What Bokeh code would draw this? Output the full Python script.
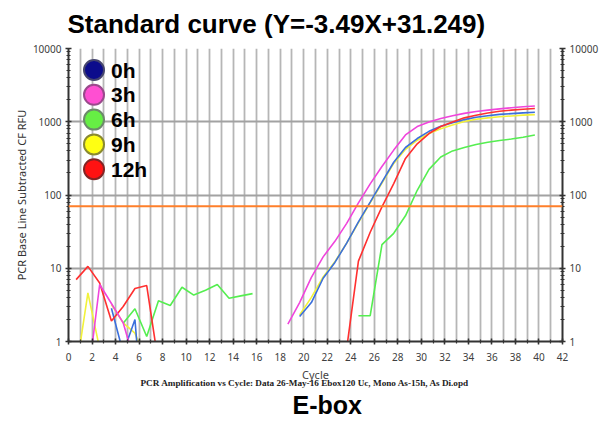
from bokeh.plotting import figure
from bokeh.models import (LogAxis, FixedTicker, NumeralTickFormatter, Title,
                          Span, ColumnDataSource)
from bokeh.core.properties import value
from bokeh.embed import file_html
from bokeh.resources import INLINE

nan = float("nan")

# ---------------- data ----------------
SERIES = ["0h", "3h", "6h", "9h", "12h"]

CYC_0H = [3.65, 4.65, 5.65, 6.65, nan,
          19.65, 20.65, 21.65, 22.65, 23.65, 24.65, 25.65, 26.65, 27.65, 28.65, 29.65,
          30.65, 31.65, 32.65, 33.65, 34.65, 35.65, 36.65, 37.65, 38.65, 39.65]
RFU_0H = [2.85, 0.7, 2.0, 0.02, nan,
          2.2, 3.4, 7.3, 12, 22, 43, 80, 150, 280, 445, 590,
          740, 870, 970, 1070, 1150, 1210, 1260, 1290, 1320, 1345]

CYC_3H = [1.65, 2.65, 3.65, 4.65, 5.65, nan,
          18.65, 19.65, 20.65, 21.65, 22.65, 23.65, 24.65, 25.65, 26.65, 27.65, 28.65, 29.65,
          30.65, 31.65, 32.65, 33.65, 34.65, 35.65, 36.65, 37.65, 38.65, 39.65]
RFU_3H = [0.3, 6.0, 3.3, 1.8, 0.5, nan,
          1.73, 3.4, 7.5, 14.3, 23.3, 41, 78, 142, 245, 410, 660, 860,
          990, 1110, 1210, 1300, 1380, 1440, 1500, 1550, 1600, 1640]

CYC_6H = [4.65, 5.65, 6.65, 7.65, 8.65, 9.65, 10.65, 11.65, 12.65, 13.65, 14.65, 15.65, nan,
          24.65, 25.65, 26.65, 27.65, 28.65, 29.65,
          30.65, 31.65, 32.65, 33.65, 34.65, 35.65, 36.65, 37.65, 38.65, 39.65]
RFU_6H = [1.78, 2.8, 1.17, 3.6, 3.1, 5.5, 4.3, 5.0, 6.0, 3.9, 4.2, 4.5, nan,
          2.25, 2.25, 21, 30, 52, 116,
          224, 330, 400, 445, 490, 525, 555, 580, 615, 660]

CYC_9H = [0.65, 1.65, 2.65, nan, 3.65, 4.65, 5.65, 6.65, nan,
          19.65, 20.65, 21.65, 22.65, 23.65, 24.65, 25.65, 26.65, 27.65, 28.65, 29.65,
          30.65, 31.65, 32.65, 33.65, 34.65, 35.65, 36.65, 37.65, 38.65, 39.65]
RFU_9H = [0.4, 4.6, 0.8, nan, 3.2, 1.8, 1.3, 0.5, nan,
          2.3, 4.0, 7.6, 12.3, 22, 42, 78, 145, 270, 420, 560,
          690, 800, 900, 1010, 1080, 1130, 1170, 1200, 1230, 1250]

CYC_12H = [0.65, 1.65, 2.65, 3.65, 4.65, 5.65, 6.65, 7.65, nan,
           23.65, 24.65, 25.65, 26.65, 27.65, 28.65, 29.65,
           30.65, 31.65, 32.65, 33.65, 34.65, 35.65, 36.65, 37.65, 38.65, 39.65]
RFU_12H = [7.0, 10.6, 6.3, 1.9, 3.0, 5.3, 5.8, 0.5, nan,
           0.8, 12.5, 31, 69, 143, 316, 500,
           690, 860, 990, 1130, 1230, 1320, 1390, 1440, 1480, 1515]

THRESHOLD = 70

X_TICKS = list(range(0, 43, 2))
X_MINOR = list(range(0, 43))
Y_TICKS = [1, 10, 100, 1000, 10000]
Y_MINOR = [k * 10 ** d for d in range(4) for k in range(2, 10)]

TITLE = "Standard curve (Y=-3.49X+31.249)"
SUBTITLE = "PCR Amplification vs Cycle: Data 26-May-16 Ebox120 Uc, Mono As-15h, As Di.opd"
BOTTOM_TITLE = "E-box"
X_LABEL = "Cycle"
Y_LABEL = "PCR Base Line Subtracted CF RFU"

# ---------------- styles / layout ----------------
LINE_COLORS = {"0h": "#3b6fdc", "3h": "#f045dc", "6h": "#55ee50", "9h": "#f2f23a", "12h": "#ff3030"}
FILL_COLORS = {"0h": "#0c0c8c", "3h": "#ff4fd2", "6h": "#66ee44", "9h": "#ffff12", "12h": "#ff1212"}
EDGE_COLORS = {"0h": "#45456e", "3h": "#9a4a8c", "6h": "#6c8a6a", "9h": "#8a8a30", "12h": "#842424"}

data = {"0h": (CYC_0H, RFU_0H), "3h": (CYC_3H, RFU_3H), "6h": (CYC_6H, RFU_6H),
        "9h": (CYC_9H, RFU_9H), "12h": (CYC_12H, RFU_12H)}

W, H = 611, 426
FL, FT, FW, FH = 68, 48, 494, 293
X0, X1 = 0, 42
Y_DECADES = 4

# legend placement (canvas pixels)
LEG_X, LEG_Y0, LEG_DY, LEG_TEXT_DX = 93.5, 69.5, 24.8, 17


def px_x(px):
    """canvas pixel x -> cycle coordinate"""
    return X0 + (px - FL) * (X1 - X0) / FW


def px_y(py):
    """canvas pixel y -> RFU coordinate on the log axis"""
    return 10 ** ((FT + FH - py) * Y_DECADES / FH)


p = figure(width=W, height=H, frame_width=FW, frame_height=FH,
           x_range=(X0, X1), y_range=(1, 10 ** Y_DECADES), y_axis_type="log",
           output_backend="svg", toolbar_location=None,
           min_border_left=FL, min_border_top=FT,
           min_border_right=W - FL - FW, min_border_bottom=H - FT - FH)
p.outline_line_color = None
p.background_fill_color = "white"
p.border_fill_color = "white"

# main title (above)
p.title.text = TITLE
p.title.align = "left"
p.title.offset = -1
p.title.standoff = 16
p.title.vertical_align = "top"
p.title.text_font = "Liberation Sans"
p.title.text_font_style = "bold"
p.title.text_font_size = "26px"
p.title.text_color = "#000000"

# grid
p.xgrid.ticker = FixedTicker(ticks=X_MINOR)
p.xgrid.grid_line_color = "#b6b6b6"
p.xgrid.grid_line_width = 1.8
p.ygrid.grid_line_color = "#a2a2a2"
p.ygrid.grid_line_width = 2

yticker = FixedTicker(ticks=Y_TICKS, minor_ticks=Y_MINOR)
xticker = FixedTicker(ticks=X_TICKS, minor_ticks=X_MINOR)
xaxis = p.below[0]
left = p.left[0]
xaxis.ticker = xticker
left.ticker = yticker
left.formatter = NumeralTickFormatter(format="0")

right = LogAxis(ticker=yticker, formatter=NumeralTickFormatter(format="0"))
p.add_layout(right, "right")

for ax in [xaxis, left, right]:
    ax.axis_line_color = "#333333"
    ax.axis_line_width = 2
    ax.major_tick_line_color = "#333333"
    ax.major_tick_line_width = 1.5
    ax.major_tick_in = 3
    ax.major_tick_out = 3
    ax.minor_tick_line_color = "#333333"
    ax.minor_tick_line_width = 1.2
    ax.minor_tick_in = 2
    ax.minor_tick_out = 2
    ax.major_label_text_font = "Noto Sans"
    ax.major_label_text_font_size = "10px"
    ax.major_label_text_color = "#404040"
    ax.major_label_standoff = 4

xaxis.major_label_standoff = 8
xaxis.axis_label = X_LABEL
xaxis.axis_label_text_font = "Noto Sans"
xaxis.axis_label_text_font_style = "normal"
xaxis.axis_label_text_font_size = "11px"
xaxis.axis_label_text_color = "#444444"
xaxis.axis_label_standoff = 3
left.axis_label = Y_LABEL
left.axis_label_text_font = "Noto Sans"
left.axis_label_text_font_style = "normal"
left.axis_label_text_font_size = "11px"
left.axis_label_text_color = "#333333"
left.axis_label_standoff = 1

# texts below the x axis
sub = Title(text=SUBTITLE, align="left", offset=72, standoff=-14, vertical_align="top",
            text_font="Liberation Serif", text_font_style="bold",
            text_font_size="9.2px", text_color="#222222")
p.add_layout(sub, "below")
ebox = Title(text=BOTTOM_TITLE, align="left", offset=224, standoff=8, vertical_align="bottom",
             text_font="Liberation Sans", text_font_style="bold",
             text_font_size="25px", text_color="#000000")
p.add_layout(ebox, "below")

# threshold
p.add_layout(Span(location=THRESHOLD, dimension="width", line_color="#ff7f2a", line_width=2))

# curves
for s in ["9h", "0h", "6h", "12h", "3h"]:
    cx, cy = data[s]
    src = ColumnDataSource(dict(x=cx, y=cy))
    p.line("x", "y", source=src, line_color=LINE_COLORS[s], line_width=1.6)

# legend: big circles + bold labels in the upper left of the frame
leg_src = ColumnDataSource(dict(
    x=[px_x(LEG_X)] * len(SERIES),
    y=[px_y(LEG_Y0 + i * LEG_DY) for i in range(len(SERIES))],
    tx=[px_x(LEG_X + LEG_TEXT_DX)] * len(SERIES),
    label=SERIES,
    fill=[FILL_COLORS[s] for s in SERIES],
    edge=[EDGE_COLORS[s] for s in SERIES],
))
p.scatter("x", "y", source=leg_src, marker="circle", size=20,
          fill_color="fill", line_color="edge", line_width=2)
p.text("tx", "y", text="label", source=leg_src, text_font=value("Liberation Sans"),
       text_font_style="bold", text_font_size="21px", text_color="#000000",
       text_baseline="middle", text_align="left")

open("out.html", "w").write(file_html(p, INLINE))
